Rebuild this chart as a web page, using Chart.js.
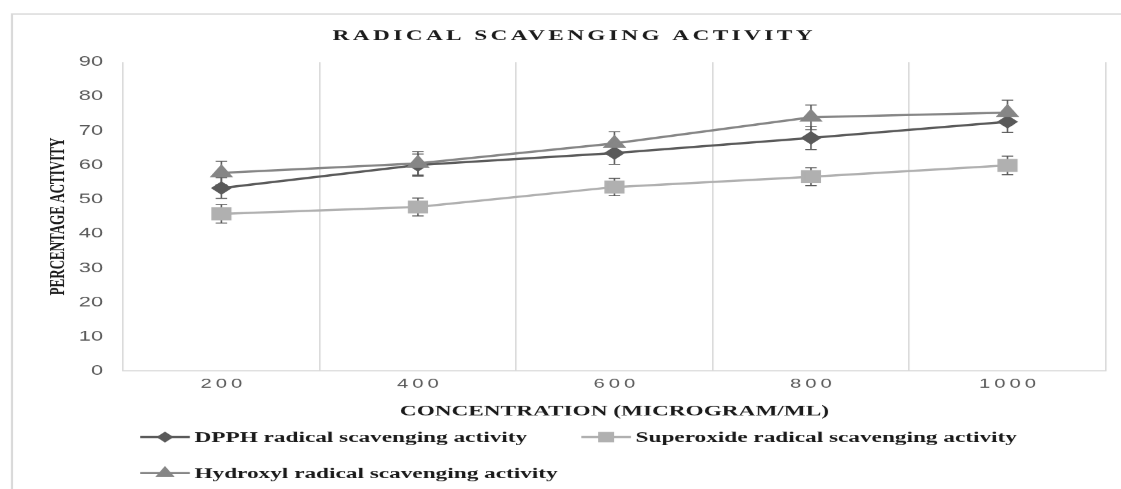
<!DOCTYPE html>
<html>
<head>
<meta charset="utf-8">
<script src="https://cdn.jsdelivr.net/npm/chart.js@4"></script>
<style>
html, body { margin: 0; padding: 0; background: #fff; overflow: hidden; }
/* the reference is stretched sideways, so draw narrow and widen it */
#wrap { position: absolute; left: 0; top: 0; width: 723px; height: 489px; transform: scaleX(1.5505); transform-origin: 0 0; }
</style>
</head>
<body>
<div id="wrap"><canvas id="chart"></canvas></div>
<script>
const STRETCH = 1121 / 723

const concentrations = ["200", "400", "600", "800", "1000"]
const dpph = [53.3, 60.0, 63.5, 67.9, 72.6]
const dpphErr = [3.0, 3.2, 3.3, 3.4, 3.1]
const superoxide = [45.8, 47.8, 53.6, 56.6, 59.9]
const superoxideErr = [2.7, 2.6, 2.5, 2.6, 2.7]
const hydroxyl = [57.7, 60.5, 66.3, 73.9, 75.3]
const hydroxylErr = [3.4, 3.4, 3.4, 3.6, 3.6]
const yMin = 0
const yMax = 90
const yStep = 10

const chartTitle = "RADICAL SCAVENGING ACTIVITY"
const xTitle = "CONCENTRATION (MICROGRAM/ML)"
const yTitle = "PERCENTAGE ACTIVITY"

const errors = [dpphErr, superoxideErr, hydroxylErr]

// frame round the chart (left and top edges only are visible)
const frame = {
    id: "frame",
    beforeDraw(chart) {
        const ctx = chart.ctx
        ctx.save()
        ctx.strokeStyle = "#d9d9d9"
        ctx.lineWidth = 1.4
        ctx.beginPath()
        ctx.moveTo(7.7, chart.height)
        ctx.lineTo(7.7, 14)
        ctx.lineTo(chart.width, 14)
        ctx.stroke()
        ctx.restore()
    },
}

// spaced out title, drawn by hand because the title plugin has no letter spacing
const spacedTitle = {
    id: "spacedTitle",
    afterDraw(chart) {
        const ctx = chart.ctx
        ctx.save()
        ctx.font = "bold 15px 'Liberation Serif'"
        ctx.letterSpacing = "2.2px"
        ctx.fillStyle = "#1a1a1a"
        ctx.textAlign = "center"
        ctx.textBaseline = "middle"
        ctx.fillText(chartTitle, (7.7 + chart.width) / 2 + 5, 36)
        ctx.restore()
    },
}

const errorBars = {
    id: "errorBars",
    beforeDatasetsDraw(chart) {
        const { ctx, scales: { x, y } } = chart
        ctx.save()
        ctx.strokeStyle = "#5a5a5a"
        ctx.lineWidth = 1
        chart.data.datasets.forEach((ds, i) => {
            errors[i].forEach((e, j) => {
                const px = x.getPixelForValue(j)
                const top = y.getPixelForValue(ds.data[j] + e)
                const bot = y.getPixelForValue(ds.data[j] - e)
                ctx.beginPath()
                ctx.moveTo(px, top)
                ctx.lineTo(px, bot)
                ctx.moveTo(px - 3.7, top)
                ctx.lineTo(px + 3.7, top)
                ctx.moveTo(px - 3.7, bot)
                ctx.lineTo(px + 3.7, bot)
                ctx.stroke()
            })
        })
        ctx.restore()
    },
}

// legend with a line through each marker, two per row
const lineLegend = {
    id: "lineLegend",
    afterDraw(chart) {
        const ctx = chart.ctx
        const left = chart.chartArea.left
        ctx.save()
        chart.data.datasets.forEach((ds, i) => {
            const col = i % 2
            const row = Math.floor(i / 2)
            const x0 = left + 11 + col * 284.5
            const y0 = 437 + row * 36
            ctx.strokeStyle = ds.borderColor
            ctx.lineWidth = 2.25
            ctx.beginPath()
            ctx.moveTo(x0, y0)
            ctx.lineTo(x0 + 32, y0)
            ctx.stroke()
            ctx.fillStyle = ds.pointBackgroundColor
            ctx.strokeStyle = ds.pointBackgroundColor
            Chart.helpers.drawPoint(ctx, {
                pointStyle: ds.pointStyle,
                radius: ds.pointRadius * 0.75,
                rotation: 0,
                borderWidth: 1,
            }, x0 + 16, y0)
            ctx.fillStyle = "#1a1a1a"
            ctx.font = "bold 15px 'Liberation Serif'"
            ctx.textAlign = "left"
            ctx.textBaseline = "middle"
            ctx.fillText(ds.label, x0 + 35, y0 + 1)
        })
        ctx.restore()
    },
}

new Chart(document.getElementById("chart").getContext("2d"), {
    type: "line",
    data: {
        labels: concentrations,
        datasets: [
            {
                label: "DPPH radical scavenging activity",
                data: dpph,
                borderColor: "#5a5a5a",
                backgroundColor: "#5a5a5a",
                pointBackgroundColor: "#5a5a5a",
                pointBorderColor: "#5a5a5a",
                pointStyle: "rectRot",
                pointRadius: 5.2,
                borderWidth: 2.25,
                order: 2,
            },
            {
                label: "Superoxide radical scavenging activity",
                data: superoxide,
                borderColor: "#b0b0b0",
                backgroundColor: "#b0b0b0",
                pointBackgroundColor: "#b0b0b0",
                pointBorderColor: "#b0b0b0",
                pointStyle: "rect",
                pointRadius: 7.6,
                borderWidth: 2.25,
                order: 1,
            },
            {
                label: "Hydroxyl radical scavenging activity",
                data: hydroxyl,
                borderColor: "#868686",
                backgroundColor: "#868686",
                pointBackgroundColor: "#868686",
                pointBorderColor: "#868686",
                pointStyle: "triangle",
                pointRadius: 6.5,
                borderWidth: 2.25,
                order: 0,
            },
        ],
    },
    options: {
        responsive: true,
        maintainAspectRatio: false,
        devicePixelRatio: STRETCH,
        animation: false,
        layout: {
            padding: { left: 26, right: 9.5, top: 62, bottom: 64 },
        },
        plugins: {
            legend: { display: false },
            title: { display: false },
            tooltip: { enabled: false },
        },
        scales: {
            x: {
                offset: true,
                grid: {
                    color: "#d9d9d9",
                    lineWidth: 1,
                    offset: true,
                    drawTicks: false,
                },
                border: {
                    display: true,
                    color: "#d9d9d9",
                    width: 1,
                },
                ticks: {
                    color: "#595959",
                    padding: 5,
                    font: { family: "'Liberation Sans'", size: 13 },
                    callback: (v, i) => concentrations[i].split("").join("\u2009"),
                },
                title: {
                    display: true,
                    text: xTitle,
                    color: "#1a1a1a",
                    font: { family: "'Liberation Serif'", size: 15, weight: "bold" },
                    padding: { top: 6, bottom: 4.4 },
                },
            },
            y: {
                min: yMin,
                max: yMax,
                afterFit: (scale) => { scale.width = 53.4 },
                grid: { display: false, drawTicks: false },
                border: { display: false },
                ticks: {
                    stepSize: yStep,
                    color: "#595959",
                    padding: 13,
                    font: { family: "'Liberation Sans'", size: 14 },
                },
                title: {
                    display: true,
                    text: yTitle,
                    color: "#1a1a1a",
                    font: { family: "'Liberation Serif'", size: 13, weight: "bold" },
                    padding: { top: 4, bottom: 0 },
                },
            },
        },
    },
    plugins: [frame, errorBars, spacedTitle, lineLegend],
});
</script>
</body>
</html>
